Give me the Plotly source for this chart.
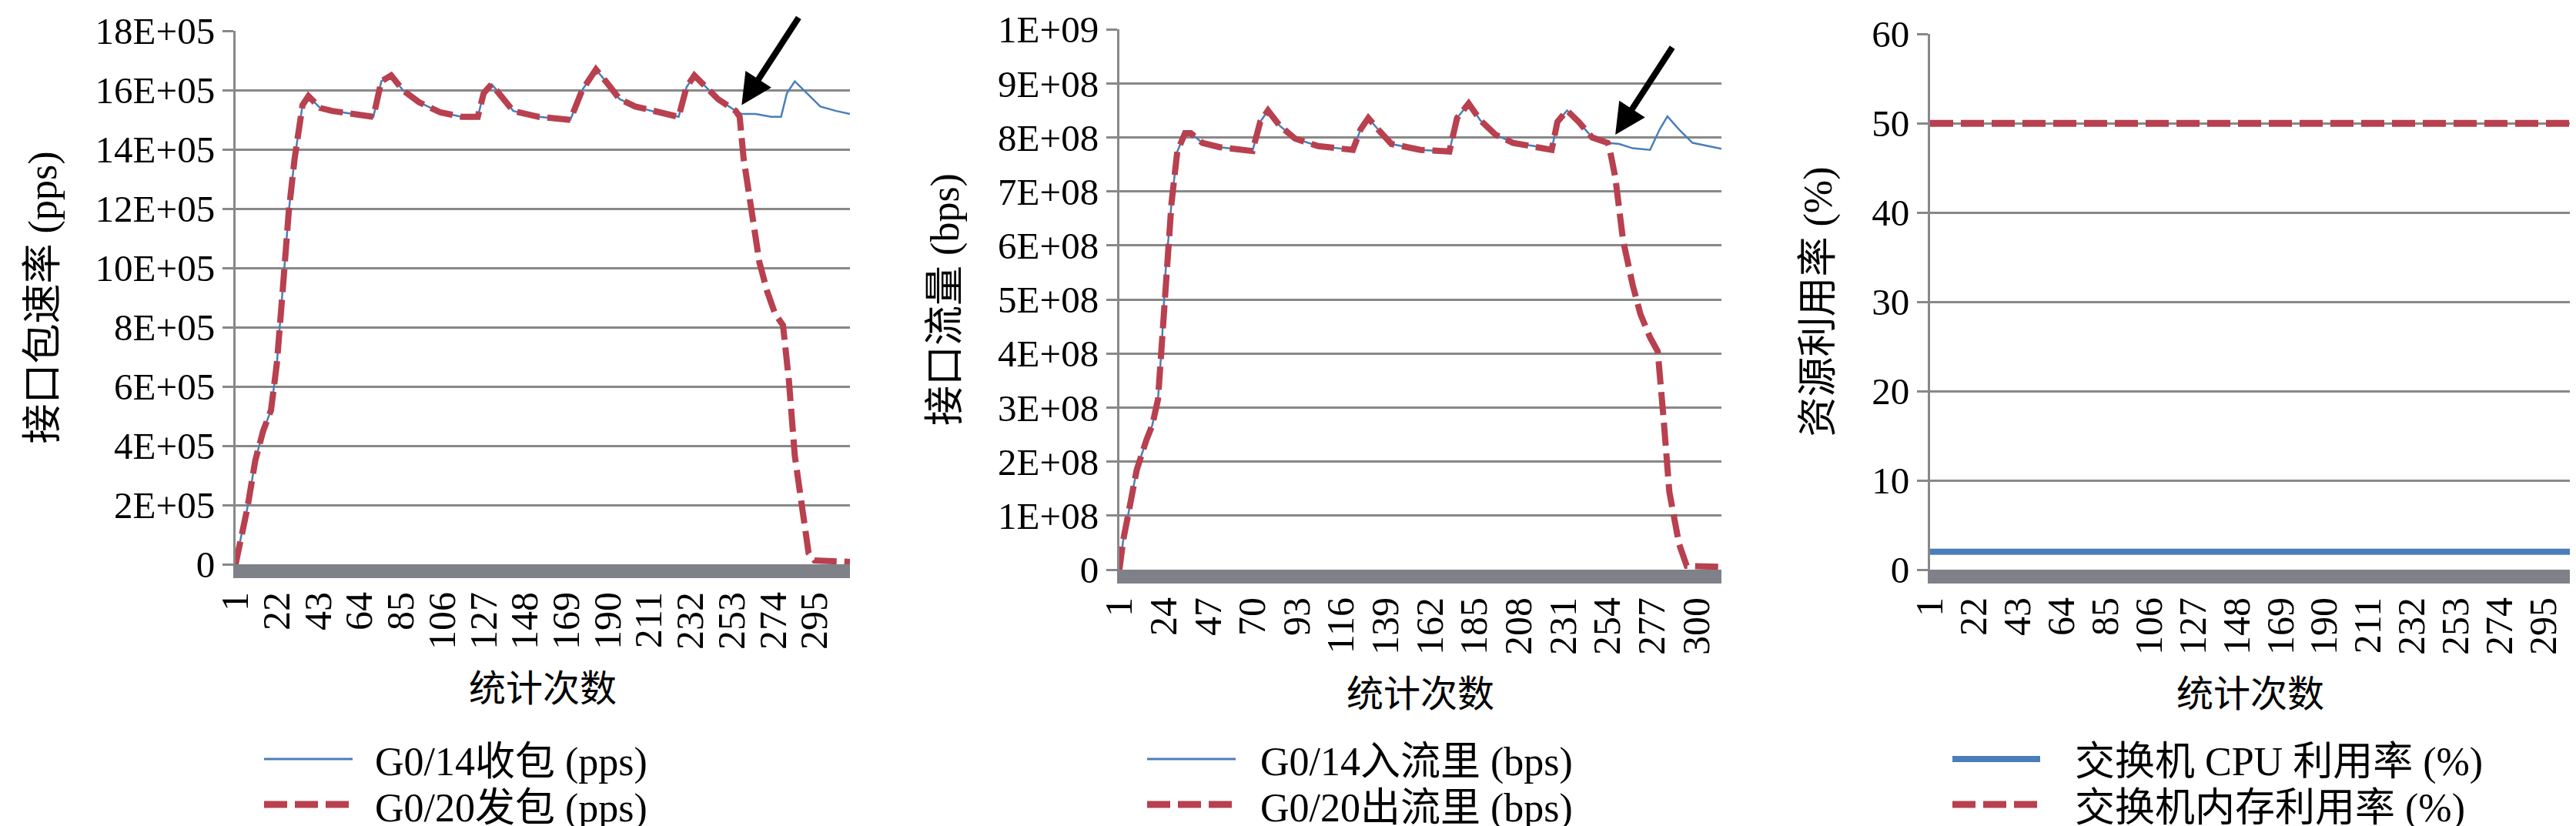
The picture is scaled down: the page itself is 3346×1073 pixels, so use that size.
import plotly.graph_objects as go

# 图1 接口包速率 (pps)
pps_in_x = [1, 4, 7, 11, 15, 19, 22, 25, 28, 31, 35, 38, 44, 50, 61, 71, 75, 80, 86, 94,
            105, 116, 124, 127, 131, 135, 142, 155, 171, 177, 184, 189, 196, 204, 215, 226,
            230, 234, 240, 246, 255, 258, 265, 273, 278, 281, 285, 291, 298, 306, 313]
pps_in = [0, 100000, 190000, 350000, 450000, 520000, 680000, 930000, 1190000, 1370000,
          1550000, 1580000, 1540000, 1530000, 1520000, 1510000, 1630000, 1650000, 1600000,
          1560000, 1525000, 1510000, 1510000, 1590000, 1620000, 1590000, 1530000, 1510000,
          1500000, 1600000, 1670000, 1630000, 1570000, 1545000, 1525000, 1510000, 1610000,
          1650000, 1610000, 1570000, 1530000, 1520000, 1520000, 1510000, 1510000, 1590000,
          1630000, 1590000, 1545000, 1530000, 1520000]
pps_out_x = pps_in_x[:41] + [257, 259, 263, 267, 271, 275, 279, 282, 285, 289, 292, 295, 313]
pps_out = pps_in[:41] + [1510000, 1370000, 1185000, 1020000, 920000, 845000, 807000, 620000,
                         366000, 177000, 38000, 13000, 8000]

# 图2 接口流量 (bps)
bps_in_x = [1, 3, 6, 10, 15, 18, 21, 23, 25, 28, 31, 35, 38, 44, 53, 70, 74, 78, 84, 92,
            104, 122, 126, 130, 135, 142, 157, 172, 176, 182, 188, 196, 205, 216, 225, 228,
            233, 239, 246, 254, 260, 267, 276, 281, 285, 291, 298, 306, 313]
bps_in = [0, 0.55e8, 1.1e8, 1.85e8, 2.4e8, 2.67e8, 3.15e8, 4.18e8, 5.55e8, 6.78e8, 7.74e8,
          8.08e8, 8.08e8, 7.9e8, 7.82e8, 7.75e8, 8.29e8, 8.5e8, 8.22e8, 7.98e8, 7.84e8,
          7.77e8, 8.15e8, 8.36e8, 8.15e8, 7.88e8, 7.77e8, 7.74e8, 8.36e8, 8.63e8, 8.32e8,
          8.05e8, 7.9e8, 7.84e8, 7.77e8, 8.29e8, 8.5e8, 8.29e8, 8.0e8, 7.9e8, 7.88e8, 7.8e8,
          7.77e8, 8.15e8, 8.39e8, 8.15e8, 7.9e8, 7.84e8, 7.79e8]
bps_out_x = bps_in_x[:40] + [255, 258, 262, 267, 271, 276, 280, 283, 286, 291, 295, 313]
bps_out = bps_in[:40] + [7.8e8, 7.26e8, 6.1e8, 5.27e8, 4.73e8, 4.3e8, 4.04e8, 2.8e8, 1.44e8,
                         0.48e8, 0.07e8, 0.05e8]

# 图3 资源利用率 (%)
res_x = [1, 308]
cpu_use = [2, 2]
mem_use = [50, 50]

ticks_a = [1, 22, 43, 64, 85, 106, 127, 148, 169, 190, 211, 232, 253, 274, 295]
ticks_b = [1, 24, 47, 70, 93, 116, 139, 162, 185, 208, 231, 254, 277, 300]
pps_ticks = [0, 200000, 400000, 600000, 800000, 1000000, 1200000, 1400000, 1600000, 1800000]
pps_labels = ["0", "2E+05", "4E+05", "6E+05", "8E+05", "10E+05", "12E+05", "14E+05", "16E+05", "18E+05"]
bps_ticks = [0, 1e8, 2e8, 3e8, 4e8, 5e8, 6e8, 7e8, 8e8, 9e8, 1e9]
bps_labels = ["0", "1E+08", "2E+08", "3E+08", "4E+08", "5E+08", "6E+08", "7E+08", "8E+08", "9E+08", "1E+09"]

W, H = 3346, 1073
NUM_FONT = "Liberation Serif"
FONT = "Liberation Serif, Noto Sans CJK SC"
BLUE = "#4a7ebb"
RED = "#b8404f"
GRID = "#888888"


def px(x):
    return x / W


def py(y):
    return 1 - y / H


fig = go.Figure()
fig.add_scatter(x=pps_in_x, y=pps_in, mode="lines", line=dict(color=BLUE, width=2.5),
                xaxis="x", yaxis="y")
fig.add_scatter(x=pps_out_x, y=pps_out, mode="lines",
                line=dict(color=RED, width=8, dash="30px,10px"), xaxis="x", yaxis="y")
fig.add_scatter(x=bps_in_x, y=bps_in, mode="lines", line=dict(color=BLUE, width=2.5),
                xaxis="x2", yaxis="y2")
fig.add_scatter(x=bps_out_x, y=bps_out, mode="lines",
                line=dict(color=RED, width=8, dash="30px,10px"), xaxis="x2", yaxis="y2")
fig.add_scatter(x=res_x, y=cpu_use, mode="lines", line=dict(color=BLUE, width=8),
                xaxis="x3", yaxis="y3")
fig.add_scatter(x=res_x, y=mem_use, mode="lines",
                line=dict(color=RED, width=9, dash="30px,10px"), xaxis="x3", yaxis="y3")

xax = dict(showline=True, linecolor="#7f8189", linewidth=18, showgrid=False, zeroline=False,
           ticks="", tickangle=-90, ticklabelstandoff=-2, automargin=False,
           tickfont=dict(family=NUM_FONT, size=50, color="black"),
           title=dict(text="统计次数", font=dict(family=FONT, size=48, color="black"), standoff=42))
yax = dict(showline=True, linecolor=GRID, linewidth=3, showgrid=True, gridcolor=GRID, gridwidth=3,
           zeroline=False, ticks="outside", ticklen=14, tickwidth=3, tickcolor=GRID, automargin=False,
           ticklabeloverflow="allow", tickfont=dict(family=NUM_FONT, size=49, color="black"))

fig.update_layout(
    width=W, height=H, showlegend=False,
    margin=dict(l=0, r=0, t=0, b=0),
    font=dict(family=FONT, color="black"),
    paper_bgcolor="white", plot_bgcolor="white",
    xaxis=dict(xax, domain=[px(298), px(1096)], range=[1, 313], tickvals=ticks_a, anchor="y"),
    yaxis=dict(yax, domain=[py(725), py(32)], range=[0, 1800500], tickvals=pps_ticks,
               ticktext=pps_labels, anchor="x",
               title=dict(text="接口包速率 (pps)", font=dict(family=FONT, size=52, color="black"), standoff=34)),
    xaxis2=dict(xax, domain=[px(1446), px(2228)], range=[1, 313], tickvals=ticks_b, anchor="y2"),
    yaxis2=dict(yax, domain=[py(732), py(30)], range=[0, 1.0003e9], tickvals=bps_ticks,
                ticktext=bps_labels, anchor="x2",
                title=dict(text="接口流量 (bps)", font=dict(family=FONT, size=52, color="black"), standoff=34)),
    xaxis3=dict(xax, domain=[px(2499), px(3331)], range=[1, 308], tickvals=ticks_a, anchor="y3"),
    yaxis3=dict(yax, domain=[py(732), py(36)], range=[0, 60.02], dtick=10, anchor="x3",
                title=dict(text="资源利用率 (%)", font=dict(family=FONT, size=52, color="black"), standoff=36)),
)

# 箭头
fig.add_annotation(x=258, y=1550000, xref="x", yref="y", text="", showarrow=True,
                   ax=75, ay=-115, arrowhead=2, arrowsize=1.0, arrowwidth=8, arrowcolor="black")
fig.add_annotation(x=258, y=8.05e8, xref="x2", yref="y2", text="", showarrow=True,
                   ax=75, ay=-115, arrowhead=2, arrowsize=1.0, arrowwidth=8, arrowcolor="black")

# 图例 (手工绘制以得到较长的线段样例)
legend_rows = [
    (335, 450, 477, "G0/14收包 (pps)", "G0/20发包 (pps)", 3),
    (1482, 1597, 1627, "G0/14入流里 (bps)", "G0/20出流里 (bps)", 3),
    (2528, 2642, 2685, "交换机 CPU 利用率 (%)", "交换机内存利用率 (%)", 8),
]
for x0, x1, xt, t1, t2, bw in legend_rows:
    fig.add_shape(type="line", xref="paper", yref="paper", x0=px(x0), x1=px(x1),
                  y0=py(978), y1=py(978), line=dict(color=BLUE, width=bw))
    fig.add_shape(type="line", xref="paper", yref="paper", x0=px(x0), x1=px(x1),
                  y0=py(1037), y1=py(1037), line=dict(color=RED, width=9, dash="30px,10px"))
    for t, yy in ((t1, 982), (t2, 1042)):
        fig.add_annotation(x=px(xt), y=py(yy), xref="paper", yref="paper", text=t,
                           showarrow=False, xanchor="left", yanchor="middle",
                           font=dict(family=FONT, size=52, color="black"))

fig.write_html("out.html")
